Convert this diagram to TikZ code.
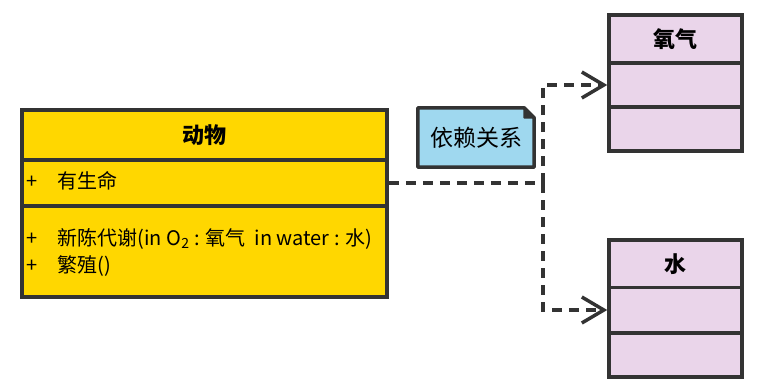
\documentclass[tikz,border=0pt]{standalone}
\usepackage{fontspec}
\setmainfont{Noto Sans CJK SC}
\usetikzlibrary{arrows.meta}

\definecolor{edgegray}{HTML}{333333}
\definecolor{animalfill}{HTML}{FFD700}
\definecolor{classfill}{HTML}{EAD5EA}
\definecolor{notefill}{HTML}{9FD8EF}

\begin{document}
\begin{tikzpicture}[
    x=1pt, y=-1pt,
    part/.style={draw=edgegray, line width=3.5pt, rectangle, inner sep=0pt},
    titlefont/.style={font=\fontsize{22}{26}\selectfont\bfseries},
    animalpart/.style={part, fill=animalfill, minimum width=365pt},
    classpart/.style={part, fill=classfill, minimum width=133pt},
    member/.style={anchor=west, inner sep=0pt, font=\fontsize{20}{27}\selectfont, align=left},
    depend/.style={draw=edgegray, line width=3.5pt, dash pattern=on 10pt off 7pt},
    opentip/.style={-{Straight Barb[length=22pt, width=26pt, line width=3.5pt]}}
]
    \useasboundingbox (0,0) rectangle (768,391);

    % Animal class
    \node[animalpart, titlefont, minimum height=50pt] (animal) at (204.5,135) {动物};
    \node[animalpart, minimum height=46pt] (animal-attr) at (204.5,183) {};
    \node[animalpart, minimum height=91pt] (animal-ops) at (204.5,251.5) {};
    \node[member] (attr) at ([xshift=6pt]animal-attr.west)
        {\begin{tabular}{@{}l@{\hspace{20pt}}l@{}}+ & 有生命\end{tabular}};
    \node[member] (ops) at ([xshift=6pt, yshift=-2pt]animal-ops.west)
        {\begin{tabular}{@{}l@{\hspace{20pt}}l@{}}+ & 新陈代谢(in O\textsubscript{2} : 氧气\ \ in water : 水)\\[0pt]
         + & 繁殖()\end{tabular}};

    % Oxygen class
    \node[classpart, titlefont, minimum height=48pt] (oxygen) at (675.5,39) {氧气};
    \node[classpart, minimum height=44pt] (oxygen-attr) at (675.5,85) {};
    \node[classpart, minimum height=44pt] (oxygen-ops) at (675.5,129) {};

    % Water class
    \node[classpart, titlefont, minimum height=48pt] (water) at (675.5,264) {水};
    \node[classpart, minimum height=45pt] (water-attr) at (675.5,310) {};
    \node[classpart, minimum height=44pt] (water-ops) at (675.5,355) {};

    % Note with folded corner
    \node[minimum width=116pt, minimum height=59pt, inner sep=0pt] (note) at (476,137.5) {};
    \draw[draw=edgegray, fill=notefill, line width=3.5pt, line join=round]
        (note.south west) -- (note.north west) -- ([xshift=-10pt]note.north east)
        -- ([yshift=-10pt]note.north east) -- (note.south east) -- cycle;
    \filldraw[edgegray, line width=1.5pt, line join=round] ([xshift=-10pt]note.north east)
        -- ([xshift=-10pt, yshift=-10pt]note.north east) -- ([yshift=-10pt]note.north east) -- cycle;
    \node[inner sep=0pt, font=\fontsize{23}{26}\selectfont] (note-text) at (note) {依赖关系};

    % Dependencies
    \coordinate (split) at (543,183);
    \draw[depend] (animal-attr.east) -- (split);
    \draw[depend, opentip] (split) |- (oxygen-attr.west);
    \draw[depend, opentip] (split) |- (water-attr.west);
\end{tikzpicture}
\end{document}
